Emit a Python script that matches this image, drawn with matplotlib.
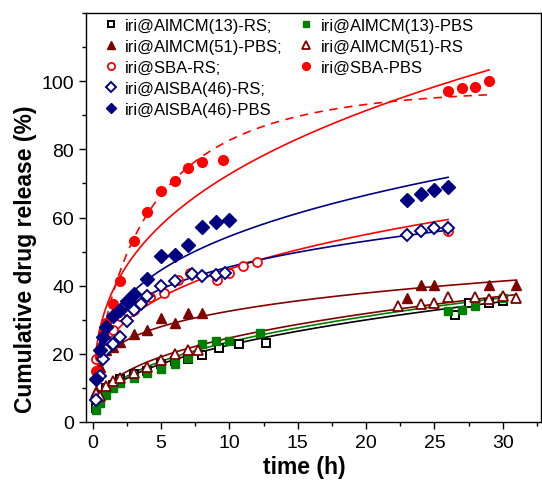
import numpy as np
import matplotlib
matplotlib.use("Agg")
import matplotlib.pyplot as plt
from matplotlib.ticker import MultipleLocator
from matplotlib.lines import Line2D

plt.rcParams['font.family'] = ['Liberation Sans', 'DejaVu Sans']

# measured release data (time in h, release in %)
t_mcm13_rs = [0.25, 0.5, 1, 1.5, 2, 3, 4, 5, 6, 7, 8, 9.2, 10.7, 12.7, 26.5, 27.5, 29, 30]
v_mcm13_rs = [4, 8, 10, 11, 12.5, 14, 15, 17, 18, 18.5, 19.8, 21.7, 22.8, 23.2, 31.5, 35, 35, 35.5]

t_mcm13_pbs = [0.25, 0.5, 1, 1.5, 2, 3, 4, 5, 6, 7, 8, 9, 10, 12.2, 26, 27, 28, 30]
v_mcm13_pbs = [3.5, 5.5, 8, 10, 11.5, 13, 14.5, 15.5, 17, 18.8, 22.9, 23.9, 23.9, 26, 32.5, 33, 34, 36.5]

t_mcm51_pbs = [0.25, 0.5, 1, 1.5, 2, 3, 4, 5, 6, 7, 8, 23, 24, 25, 29, 31]
v_mcm51_pbs = [9, 16, 21, 22, 23.5, 25.7, 26.9, 30.4, 29.1, 32, 32, 36.5, 40.3, 40.3, 40.3, 40.3]

t_mcm51_rs = [0.25, 0.5, 1, 1.5, 2, 3, 4, 5, 6, 7, 7.7, 22.3, 24, 25, 26, 28, 29, 30, 31]
v_mcm51_rs = [8.5, 7.5, 10.5, 12, 13, 14.3, 16, 18.2, 19.9, 21.1, 21, 34, 34.5, 34.8, 36.7, 36.7, 36, 36.9, 36.5]

t_sba_rs = [0.25, 0.5, 1, 1.5, 2, 3, 4.2, 5.2, 6.2, 7.1, 9.1, 10, 11, 12, 26]
v_sba_rs = [18.5, 20, 23.5, 27, 31, 33, 36.7, 37.9, 41.6, 43.8, 41.6, 43.8, 45.8, 46.8, 56]

t_sba_pbs = [0.25, 0.5, 0.75, 1, 1.5, 2, 3, 4, 5, 6, 7, 8, 9.5, 26, 27, 28, 29]
v_sba_pbs = [15, 19, 26, 29, 34.5, 41.5, 53, 61.5, 67.7, 70.7, 74.6, 76.4, 76.8, 97.2, 98, 98.4, 100]

t_alsba_rs = [0.25, 0.5, 0.75, 1, 1.5, 2, 2.5, 3, 3.5, 4, 5, 6, 7.25, 8, 9, 9.7, 23, 24, 25, 26]
v_alsba_rs = [6.5, 13.5, 18.5, 21, 23, 25, 29.5, 33, 34.7, 37, 39.8, 41.3, 43.5, 42.8, 43.2, 43.6, 55, 56, 57, 57]

t_alsba_pbs = [0.25, 0.5, 0.75, 1, 1.5, 2, 2.5, 3, 4, 5, 6, 7, 8, 9, 10, 23, 24, 25, 26]
v_alsba_pbs = [12.5, 21, 25, 28, 31, 33, 35.5, 37.5, 42, 48.7, 49, 52, 57.3, 58.7, 59.4, 65, 67, 68, 69]

# fitted model parameters: release = k * t^n (end time)
kp_fits = [
    (8.85, 0.407, 30, 'black'),       # AlMCM(13)-RS
    (9.35, 0.40, 30, 'green'),        # AlMCM(13)-PBS
    (19.7, 0.218, 31, '#800000'),     # AlMCM(51)-PBS
    (10.6, 0.367, 31, '#800000'),     # AlMCM(51)-RS
    (22.8, 0.294, 26, 'red'),         # SBA-RS
    (34.0, 0.33, 29, 'red'),          # SBA-PBS
    (27.3, 0.222, 26, '#000080'),     # AlSBA(46)-RS
    (28.0, 0.289, 26, '#000080'),     # AlSBA(46)-PBS
]
# Weibull fit of SBA-PBS: A * (1 - exp(-k t^b))
weib_A, weib_k, weib_b, weib_end = 98.0, 0.37, 0.7, 29

fig = plt.figure(figsize=(5.42, 4.81), dpi=100)
ax = fig.add_axes([86/542, 58/481, 455/542, 409/481])

for k, n, tend, col in kp_fits:
    tt = np.linspace(0.25, tend, 200)
    ax.plot(tt, k*tt**n, color=col, lw=1.2, zorder=2)
tt = np.linspace(0.25, weib_end, 200)
ax.plot(tt, weib_A*(1-np.exp(-weib_k*tt**weib_b)), color='red', lw=1.2, ls=(0, (5, 4)), zorder=2)

h1, = ax.plot(t_mcm13_rs, v_mcm13_rs, 's', ms=5.5, mfc='white', mec='black', mew=1.4, ls='none', zorder=3)
h2, = ax.plot(t_mcm13_pbs, v_mcm13_pbs, 's', ms=6, color='green', ls='none', zorder=3)
h3, = ax.plot(t_mcm51_pbs, v_mcm51_pbs, '^', ms=7.5, color='#800000', ls='none', zorder=3)
h4, = ax.plot(t_mcm51_rs, v_mcm51_rs, '^', ms=7, mfc='white', mec='#800000', mew=1.3, ls='none', zorder=3)
h5, = ax.plot(t_sba_rs, v_sba_rs, 'o', ms=6.5, mfc='white', mec='red', mew=1.3, ls='none', zorder=3)
h6, = ax.plot(t_sba_pbs, v_sba_pbs, 'o', ms=7, color='red', ls='none', zorder=3)
h7, = ax.plot(t_alsba_rs, v_alsba_rs, 'D', ms=6, mfc='white', mec='#000080', mew=1.4, ls='none', zorder=3)
h8, = ax.plot(t_alsba_pbs, v_alsba_pbs, 'D', ms=7, color='#000080', ls='none', zorder=4)

blank = Line2D([], [], ls='none', marker='none')
handles = [h1, h3, h5, h7, h8, h2, h4, h6, blank, blank]
labels = ['iri@AlMCM(13)-RS;', 'iri@AlMCM(51)-PBS;', 'iri@SBA-RS;', 'iri@AlSBA(46)-RS;',
          'iri@AlSBA(46)-PBS', 'iri@AlMCM(13)-PBS', 'iri@AlMCM(51)-RS', 'iri@SBA-PBS', '', '']
ax.legend(handles, labels, ncol=2, loc='upper left', bbox_to_anchor=(0.037, 0.987),
          frameon=False, fontsize=12, numpoints=1, handlelength=1.0,
          handletextpad=0.35, labelspacing=0.36, columnspacing=0.9,
          borderaxespad=0, borderpad=0, markerscale=0.8)

ax.set_xlim(-0.5, 32.8)
ax.set_ylim(0, 120)
ax.xaxis.set_major_locator(MultipleLocator(5))
ax.xaxis.set_minor_locator(MultipleLocator(2.5))
ax.yaxis.set_minor_locator(MultipleLocator(10))
ax.set_yticks([0, 20, 40, 60, 80, 100])
ax.tick_params(which='both', direction='out', top=False, right=False, labelsize=14, width=1)
ax.tick_params(which='major', length=5)
ax.tick_params(which='minor', length=3)
for s in ax.spines.values():
    s.set_linewidth(1)

ax.set_xlabel('time (h)', fontsize=16.5, fontweight='bold')
ax.set_ylabel('Cumulative drug release (%)', fontsize=16.5, fontweight='bold')
ax.xaxis.set_label_coords(0.479, -0.081)
ax.yaxis.set_label_coords(-0.108, 0.40)

fig.savefig('out.png', dpi=100)
